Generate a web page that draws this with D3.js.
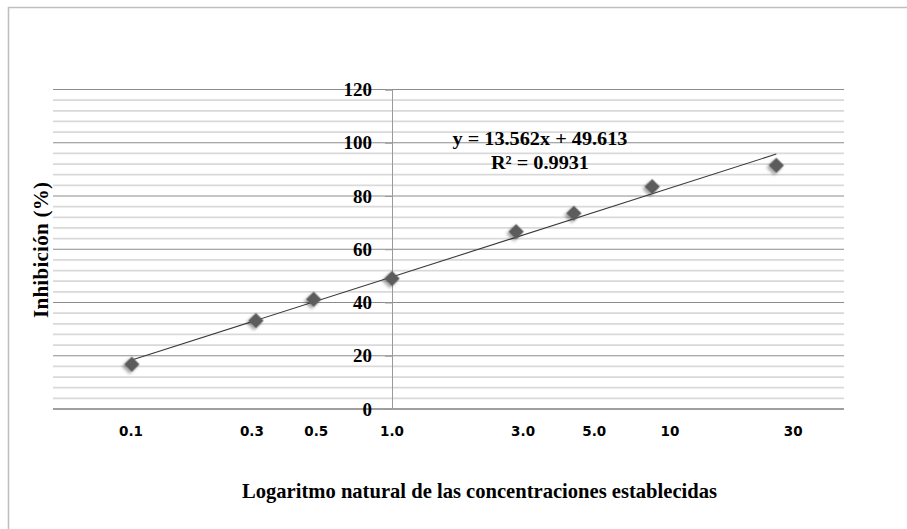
<!DOCTYPE html>
<head>
<meta charset="utf-8">
<title>Inhibición vs concentración</title>
<script type="text/javascript" src="https://d3js.org/d3.v7.min.js"></script>
<style>
body { margin: 0; background: #fff; }
</style>
</head>
<body>
<div id="chart"></div>

<script>
// data
var concentrations = [0.1, 0.3, 0.5, 1.0, 3.0, 5.0, 10, 30];
var inhibition = [16.8, 33.2, 41.2, 49.0, 66.6, 73.5, 83.5, 91.5];

// tick labels and where they sit (in ln units, as typed on the original)
var tickLabels = ["0.1", "0.3", "0.5", "1.0", "3.0", "5.0", "10", "30"];
var tickAt = [-2.31, -1.24, -0.67, 0, 1.16, 1.79, 2.46, 3.55];
var yTicks = [0, 20, 40, 60, 80, 100, 120];

// trendline
var slope = 13.562;
var intercept = 49.613;
var r2 = "0.9931";

var width = 907, height = 529;
var plot = {left: 53, right: 844, top: 89.5, bottom: 409};

var svg = d3.select("#chart")
  .append("svg")
    .attr("width", width)
    .attr("height", height);

// drop shadow for the markers
var defs = svg.append("defs");
defs.append("filter")
    .attr("id", "shadow")
    .attr("x", "-50%").attr("y", "-50%")
    .attr("width", "200%").attr("height", "200%")
  .append("feDropShadow")
    .attr("dx", 0).attr("dy", 3)
    .attr("stdDeviation", 1.6)
    .attr("flood-color", "#000")
    .attr("flood-opacity", 0.35);

// outer frame (only top and left show)
svg.append("path")
    .attr("d", "M8.5,529 V7.5 H907")
    .attr("fill", "none")
    .attr("stroke", "#bfbfbf")
    .attr("stroke-width", 1.6);

// scales
var xScale = d3.scaleLinear()
    .domain([-3, 4])
    .range([plot.left, plot.right]);

var yScale = d3.scaleLinear()
    .domain([0, 120])
    .range([plot.bottom, plot.top]);

// minor gridlines every 4
var minor = d3.range(4, 120, 4).filter(function(v) { return v % 20 != 0; });
svg.append("g")
  .selectAll("line")
  .data(minor)
  .enter().append("line")
    .attr("x1", plot.left)
    .attr("x2", plot.right)
    .attr("y1", function(d) { return yScale(d); })
    .attr("y2", function(d) { return yScale(d); })
    .attr("stroke", "#d9d9d9")
    .attr("stroke-width", 1.8);

// major gridlines
svg.append("g")
  .selectAll("line")
  .data(yTicks)
  .enter().append("line")
    .attr("x1", plot.left)
    .attr("x2", plot.right)
    .attr("y1", function(d) { return yScale(d); })
    .attr("y2", function(d) { return yScale(d); })
    .attr("stroke", function(d) { return d == 0 ? "#7f7f7f" : "#8c8c8c"; })
    .attr("stroke-width", function(d) { return d == 0 ? 1.4 : 1; });

// y axis sits at ln(x) = 0
var yAxis = d3.axisLeft(yScale)
    .tickValues(yTicks)
    .tickSize(7)
    .tickPadding(13);

var gy = svg.append("g")
    .attr("transform", "translate(" + xScale(0) + ",0)")
    .call(yAxis);

gy.select(".domain").attr("stroke", "#9a9a9a");
gy.selectAll(".tick line").attr("stroke", "#9a9a9a");
gy.selectAll(".tick text")
    .attr("fill", "#000")
    .style("font-family", "Liberation Serif, serif")
    .style("font-weight", "bold")
    .style("font-size", "19px");

// x tick labels
svg.append("g")
  .selectAll("text")
  .data(tickLabels)
  .enter().append("text")
    .attr("x", function(d, i) { return xScale(tickAt[i]); })
    .attr("y", 436)
    .attr("text-anchor", "middle")
    .style("font-family", "DejaVu Sans, sans-serif")
    .style("font-weight", "bold")
    .style("font-size", "13.5px")
    .text(function(d) { return d; });

// trendline
var lnMin = Math.log(d3.min(concentrations));
var lnMax = Math.log(d3.max(concentrations));
svg.append("line")
    .attr("x1", xScale(lnMin))
    .attr("y1", yScale(slope * lnMin + intercept))
    .attr("x2", xScale(lnMax))
    .attr("y2", yScale(slope * lnMax + intercept))
    .attr("stroke", "#3a3a3a")
    .attr("stroke-width", 1.1);

// diamond markers
var diamond = d3.symbol().type(d3.symbolSquare).size(118);
svg.append("g")
  .selectAll("path")
  .data(concentrations)
  .enter().append("path")
    .attr("d", diamond)
    .attr("transform", function(d, i) {
      return "translate(" + xScale(Math.log(d)) + "," + yScale(inhibition[i]) + ") rotate(45)";
    })
    .attr("fill", "#5b5b5b")
    .attr("filter", "url(#shadow)");

// equation label
svg.append("text")
    .attr("x", 540)
    .attr("y", 145)
    .attr("text-anchor", "middle")
    .attr("textLength", 175)
    .attr("lengthAdjust", "spacingAndGlyphs")
    .style("font-family", "Liberation Serif, serif")
    .style("font-weight", "bold")
    .style("font-size", "19px")
    .text("y = " + slope + "x + " + intercept);

svg.append("text")
    .attr("x", 540)
    .attr("y", 169)
    .attr("text-anchor", "middle")
    .attr("textLength", 98)
    .attr("lengthAdjust", "spacingAndGlyphs")
    .style("font-family", "Liberation Serif, serif")
    .style("font-weight", "bold")
    .style("font-size", "19px")
    .text("R² = " + r2);

// axis titles
svg.append("text")
    .attr("x", 479.5)
    .attr("y", 498)
    .attr("text-anchor", "middle")
    .attr("textLength", 475)
    .attr("lengthAdjust", "spacingAndGlyphs")
    .style("font-family", "Liberation Serif, serif")
    .style("font-weight", "bold")
    .style("font-size", "22px")
    .text("Logaritmo natural de las concentraciones establecidas");

svg.append("text")
    .attr("transform", "translate(48,250) rotate(-90)")
    .attr("text-anchor", "middle")
    .attr("textLength", 136)
    .attr("lengthAdjust", "spacing")
    .style("font-family", "Liberation Serif, serif")
    .style("font-weight", "bold")
    .style("font-size", "21px")
    .text("Inhibición (%)");
</script>
</body>
